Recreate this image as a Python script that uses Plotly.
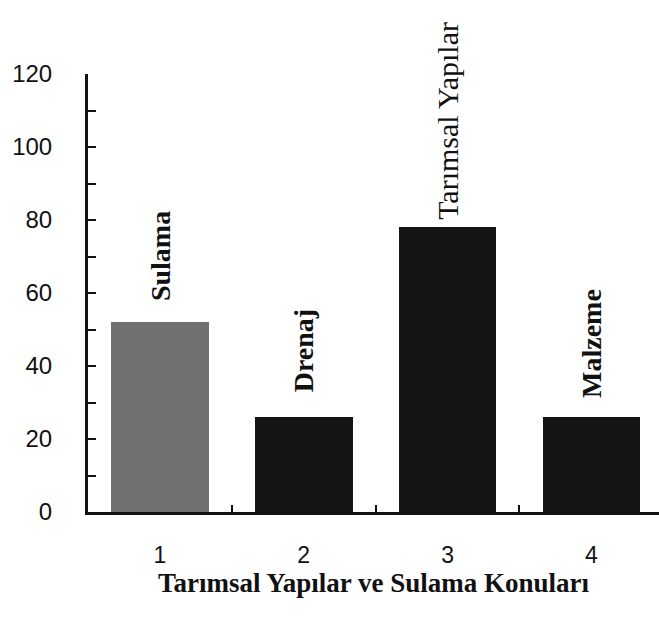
import plotly.graph_objects as go

categories = [1, 2, 3, 4]
values = [52, 26, 78, 26]
bar_labels = ["Sulama", "Drenaj", "Tarımsal Yapılar", "Malzeme"]
y_ticks = [0, 20, 40, 60, 80, 100, 120]
x_title = "Tarımsal Yapılar ve Sulama Konuları"

bar_colors = ["#717171", "#151515", "#151515", "#151515"]
label_gap = [19, 23, 5, 17]
label_bold = [True, True, False, True]

fig = go.Figure()
fig.add_trace(go.Bar(
    x=categories, y=values, width=0.68,
    marker=dict(color=bar_colors, line=dict(width=0)),
    hoverinfo="skip",
))

for c, v, t, g, b in zip(categories, values, bar_labels, label_gap, label_bold):
    fig.add_annotation(
        x=c, y=v, text=f"<b>{t}</b>" if b else t, textangle=-90,
        showarrow=False, xanchor="center", yanchor="bottom", yshift=g,
        font=dict(family="Liberation Serif, Times New Roman, serif",
                  size=28 if b else 30, color="#111"),
    )

fig.update_layout(
    width=659, height=622,
    margin=dict(l=88, r=0, t=74, b=110),
    paper_bgcolor="white", plot_bgcolor="white",
    showlegend=False,
    bargap=0,
    xaxis=dict(
        range=[0.5, 4.47],
        tickmode="array", tickvals=categories, ticktext=[str(c) for c in categories],
        ticks="", showgrid=False, zeroline=False,
        showline=True, linecolor="#111", linewidth=3,
        tickfont=dict(family="Liberation Sans, Arial, sans-serif", size=23, color="#111"),
        ticklabelstandoff=20,
        minor=dict(tickmode="array", tickvals=[1.5, 2.5, 3.5], ticks="inside",
                   ticklen=7, tickwidth=2, tickcolor="#111", showgrid=False),
        title=dict(text=f"<b>{x_title}</b>", standoff=0,
                   font=dict(family="Liberation Serif, Times New Roman, serif",
                             size=27, color="#111")),
    ),
    yaxis=dict(
        range=[0, 120],
        tickmode="array", tickvals=y_ticks,
        ticks="inside", ticklen=8, tickwidth=2, tickcolor="#111",
        showgrid=False, zeroline=False,
        showline=True, linecolor="#111", linewidth=3,
        tickfont=dict(family="Liberation Sans, Arial, sans-serif", size=24, color="#111"),
        ticklabelstandoff=28,
        minor=dict(dtick=10, tick0=0, ticks="inside", ticklen=8, tickwidth=2,
                   tickcolor="#111", showgrid=False),
    ),
)

fig.write_html("out.html", config={"displayModeBar": False},
               post_script="document.body.style.margin='0';")
